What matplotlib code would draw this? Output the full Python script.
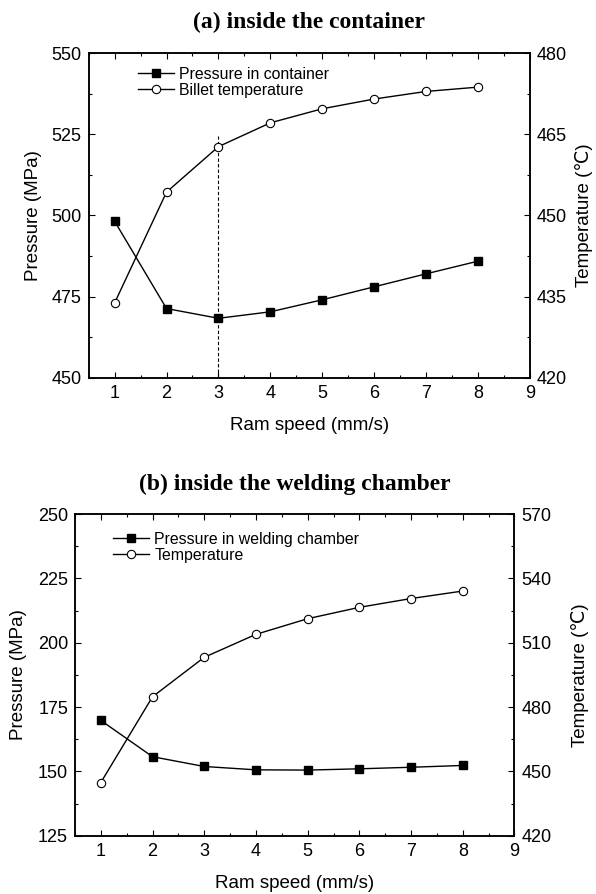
import numpy as np
import matplotlib
matplotlib.use("Agg")
import matplotlib.pyplot as plt
from matplotlib.ticker import MultipleLocator

plt.rcParams['font.family'] = ['Liberation Sans', 'DejaVu Sans']

# data
speed = [1, 2, 3, 4, 5, 6, 7, 8]
press_container = [498.2, 471.3, 468.3, 470.3, 474.0, 478.0, 482.0, 485.9]
temp_billet = [433.8, 454.3, 462.7, 467.1, 469.7, 471.5, 472.9, 473.7]
press_chamber = [169.8, 155.7, 151.9, 150.6, 150.5, 151.0, 151.6, 152.3]
temp_chamber = [444.8, 484.8, 503.2, 513.9, 521.2, 526.5, 530.6, 534.1]
dash_x = 3
dash_top = 524.3

fig = plt.figure(figsize=(5.96, 8.94), dpi=100)


def style(ax, ax2, ylim, ystep, y2lim, y2step, lpad, rpad):
    ax.set_xlim(0.5, 9)
    ax.set_ylim(*ylim)
    ax2.set_ylim(*y2lim)
    ax.xaxis.set_major_locator(MultipleLocator(1))
    ax.xaxis.set_minor_locator(MultipleLocator(0.5))
    ax.yaxis.set_major_locator(MultipleLocator(ystep))
    ax.yaxis.set_minor_locator(MultipleLocator(ystep / 2))
    ax2.yaxis.set_major_locator(MultipleLocator(y2step))
    ax2.yaxis.set_minor_locator(MultipleLocator(y2step / 2))
    for a in (ax, ax2):
        a.tick_params(which='both', direction='in', labelsize=13, width=0.8)
        a.tick_params(which='major', length=4.5, pad=5)
        a.tick_params(which='minor', length=2.3)
        for s in a.spines.values():
            s.set_linewidth(1.1)
    ax.tick_params(which='both', top=True, right=False)
    ax.set_xlabel('Ram speed (mm/s)', fontsize=13.5, labelpad=11)
    ax.set_ylabel('Pressure (MPa)', fontsize=13.5, labelpad=lpad)
    ax2.set_ylabel('Temperature (\u2103)', fontsize=13.5, labelpad=rpad)


def legend(ax, handles, x, y):
    ax.legend(handles=handles, loc='upper left', bbox_to_anchor=(x, y), frameon=False,
              fontsize=11.4, handlelength=2.3, handletextpad=0.3, borderpad=0,
              borderaxespad=0, labelspacing=0.08)


# (a) container
ax = fig.add_axes([0.1487, 0.5775, 0.7406, 0.3632])
ax2 = ax.twinx()
l1, = ax.plot(speed, press_container, 'k-s', ms=5.5, lw=1, label='Pressure in container')
l2, = ax2.plot(speed, temp_billet, 'k-o', ms=6, lw=1, mfc='white', mew=0.8,
               label='Billet temperature')
ax.plot([dash_x, dash_x], [450, dash_top], 'k--', lw=0.8, dashes=(3, 2))
style(ax, ax2, (450, 550), 25, (420, 480), 15, 7, 6)
ax.set_title('(a) inside the container', fontsize=17, fontweight='bold',
             family='Liberation Serif', pad=18)
legend(ax, [l1, l2], 0.112, 0.958)

# (b) welding chamber
bx = fig.add_axes([0.1258, 0.0652, 0.7374, 0.3598])
bx2 = bx.twinx()
m1, = bx.plot(speed, press_chamber, 'k-s', ms=5.5, lw=1, label='Pressure in welding chamber')
m2, = bx2.plot(speed, temp_chamber, 'k-o', ms=6, lw=1, mfc='white', mew=0.8,
               label='Temperature')
style(bx, bx2, (125, 250), 25, (420, 570), 30, 8, 14)
bx.set_title('(b) inside the welding chamber', fontsize=17, fontweight='bold',
             family='Liberation Serif', pad=17)
legend(bx, [m1, m2], 0.0865, 0.945)

fig.savefig('out.png', dpi=100)
